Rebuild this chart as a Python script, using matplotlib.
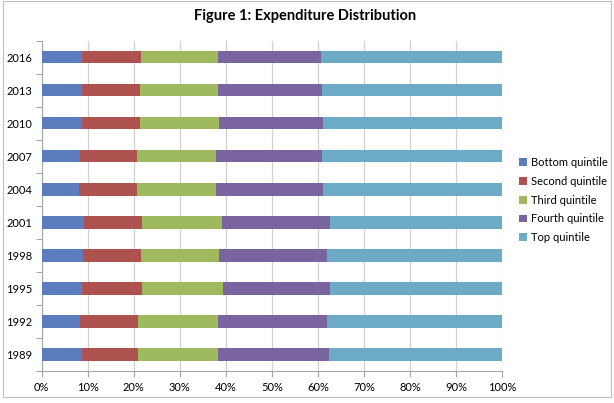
import numpy as np
import matplotlib
matplotlib.use('Agg')
import matplotlib.pyplot as plt
from matplotlib.patches import Rectangle

plt.rcParams['font.family'] = ['Lato', 'DejaVu Sans']

years = ['1989', '1992', '1995', '1998', '2001', '2004', '2007', '2010', '2013', '2016']
series = ['Bottom quintile', 'Second quintile', 'Third quintile', 'Fourth quintile', 'Top quintile']
# shares in percent, same order as years
bottom = [8.7, 8.4, 8.7, 9.0, 9.1, 8.2, 8.4, 8.7, 8.7, 8.7]
second = [12.3, 12.5, 13.1, 12.5, 12.7, 12.5, 12.3, 12.6, 12.7, 12.8]
third = [17.3, 17.4, 17.5, 17.1, 17.3, 17.2, 17.2, 17.2, 16.8, 16.7]
fourth = [24.1, 23.6, 23.4, 23.4, 23.6, 23.3, 23.0, 22.7, 22.8, 22.5]
top = [37.6, 38.1, 37.3, 38.0, 37.3, 38.8, 39.1, 38.8, 39.0, 39.3]
colors = ['#5B7DBD', '#AD524F', '#9FBA5E', '#7A64A0', '#6DAAC6']

data = np.array([bottom, second, third, fourth, top])
data = data / data.sum(axis=0) * 100

fig = plt.figure(figsize=(6.14, 4.03), dpi=100)
# outer chart frame
fig.patches.append(Rectangle((2.5 / 614, 1 - 396.5 / 403), 608.5 / 614, 395.5 / 403,
                             transform=fig.transFigure, fill=False, edgecolor='#BFBFBF', lw=0.8))
fig.text(305.5 / 614, 1 - 16 / 403, 'Figure 1: Expenditure Distribution',
         ha='center', va='center', fontsize=10.5, fontweight='bold')

ax = fig.add_axes([41.7 / 614, 1 - 371 / 403, 460.3 / 614, 330.5 / 403])
y = np.arange(len(years))
left = np.zeros(len(years))
for i in range(len(series)):
    ax.barh(y, data[i], left=left, height=0.38, color=colors[i], label=series[i], zorder=3)
    left += data[i]

ax.set_xlim(0, 100)
ax.set_ylim(-0.5, len(years) - 0.5)
ax.set_xticks(np.arange(0, 101, 10))
ax.set_xticklabels(['%d%%' % v for v in range(0, 101, 10)], fontsize=8)
ax.set_yticks(y)
ax.set_yticklabels(years, fontsize=8)
ax.tick_params(axis='y', length=0, pad=7)
ax.set_yticks(np.arange(-0.5, len(years), 1), minor=True)
ax.tick_params(axis='y', which='minor', length=4, color='#A6A6A6', width=0.8)
ax.tick_params(axis='x', length=4, color='#A6A6A6', width=0.8, pad=4)
ax.grid(axis='x', color='#D0D0D0', lw=0.9, zorder=0)
for s in ['top', 'right']:
    ax.spines[s].set_visible(False)
for s in ['left', 'bottom']:
    ax.spines[s].set_color('#A6A6A6')
    ax.spines[s].set_linewidth(0.8)

handles, labels = ax.get_legend_handles_labels()
fig.legend(handles, labels, loc='upper left', bbox_to_anchor=(509 / 614, 1 - 147 / 403),
           frameon=False, fontsize=8, handlelength=0.7, handleheight=0.7,
           handletextpad=0.4, labelspacing=0.7)

plt.savefig('out.png', dpi=100)
